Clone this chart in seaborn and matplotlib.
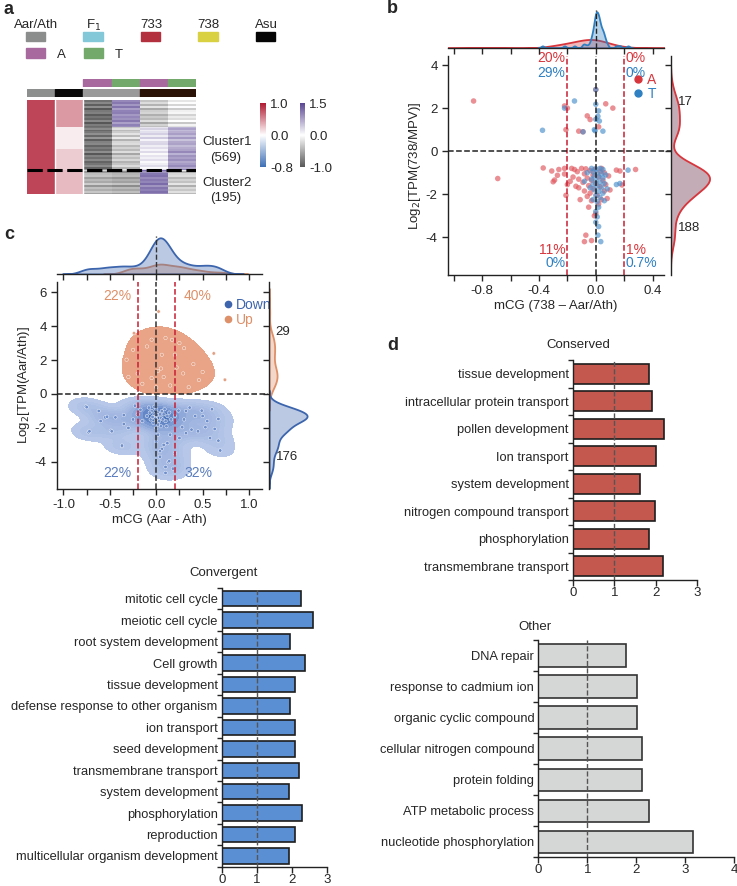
import numpy as np
import pandas as pd
import matplotlib
matplotlib.use("Agg")
import matplotlib.pyplot as plt
import seaborn as sns
from matplotlib.colors import LinearSegmentedColormap, ListedColormap, TwoSlopeNorm
from matplotlib.patches import Rectangle
from matplotlib.lines import Line2D

sns.set_style("ticks")
plt.rcParams['font.family'] = ['Liberation Sans', 'DejaVu Sans']
plt.rcParams['axes.unicode_minus'] = False
plt.rcParams['axes.linewidth'] = 1.0
plt.rcParams['axes.edgecolor'] = '#222222'
for k in ['xtick.major.width', 'ytick.major.width', 'xtick.minor.width', 'ytick.minor.width']:
    plt.rcParams[k] = 1.0

# ---------------- panel a: heatmap blocks ----------------
block_rows = [222, 178, 169, 195]          # cluster1 = first three blocks (569), cluster2 = 195
aar_ath = [0.82, 0.82, 0.82, 0.82]
asu = [0.45, 0.08, 0.22, 0.30]
f1_a = [-0.85, -0.80, -0.82, -0.45]
f1_t = [0.95, -0.30, -0.35, -0.50]
h738_a = [-0.35, 0.25, 0.15, 1.05]
h738_t = [-0.15, 0.65, 0.80, -0.30]
stripe = [0.0, 0.14, -0.10, 0.18, -0.16, 0.06, 0.10, -0.12, 0.03, -0.06, 0.15, -0.18, 0.08, -0.03, 0.12, -0.10]

# ---------------- panel b: mCG vs expression (738) ----------------
a_x = [-0.86, -0.22, -0.21, -0.12, -0.09, -0.06, -0.04, 0.00, 0.02, 0.07, 0.12, -0.20,
       -0.37, -0.31, -0.27, -0.30, -0.26, -0.22, -0.22, -0.20, -0.21, -0.17, -0.15, -0.14,
       -0.13, -0.12, -0.11, -0.10, -0.09, -0.08, -0.08, -0.07, -0.06, -0.06, -0.05, -0.04,
       -0.04, -0.03, -0.03, -0.02, -0.02, -0.01, 0.00, 0.01, 0.02, 0.03, 0.03, 0.04,
       0.05, 0.06, 0.06, 0.07, 0.08, 0.09, 0.145, 0.17, 0.185, 0.28, -0.69, -0.07,
       -0.08, -0.03, -0.01, 0.00, -0.12, -0.16, -0.18, 0.04, 0.10, -0.05, 0.02, -0.29]
a_y = [2.33, 2.10, 1.00, 0.93, 0.90, 1.64, 1.47, 2.86, 1.13, 2.20, 2.00, 2.00,
       -0.78, -0.92, -1.12, -1.42, -0.85, -0.80, -1.06, -1.55, -2.05, -0.80, -0.85, -1.63,
       -0.95, -1.30, -2.25, -0.80, -1.45, -1.05, -1.85, -0.82, -1.25, -2.10, -1.60, -0.90,
       -1.95, -1.35, -2.30, -1.10, -1.75, -0.85, -1.50, -2.05, -1.20, -0.95, -1.65, -2.25,
       -1.35, -1.00, -1.85, -1.55, -2.20, -1.15, -0.88, -0.92, -1.57, -0.85, -1.27, -3.90,
       -4.20, -4.15, -3.00, -2.90, -1.70, -1.20, -1.40, -0.80, -1.80, -2.60, -2.45, -1.34]
t_x = [-0.375, -0.15, -0.22, 0.00, 0.00, 0.02, 0.015, 0.00, 0.025, -0.005, -0.01, 0.05, -0.09,
       -0.03, 0.00, 0.03, 0.05, -0.02, 0.01, 0.04, -0.01, 0.02, 0.05, -0.03, 0.00, 0.03,
       0.06, -0.02, 0.01, 0.04, 0.08, -0.01, 0.02, 0.05, 0.00, 0.03, -0.02, 0.01, 0.02,
       0.00, 0.01, 0.00, 0.02, 0.015, 0.035, 0.145, 0.17, 0.227, -0.06, -0.08, 0.07,
       -0.04, 0.06]
t_y = [0.97, 2.33, 2.00, 2.86, 2.18, 1.87, 1.62, 1.48, 1.40, 0.95, 1.00, 0.93, 0.90,
       -0.80, -0.82, -0.80, -0.85, -0.95, -1.00, -1.05, -1.15, -1.20, -1.25, -1.30, -1.38, -1.45,
       -1.50, -1.55, -1.62, -1.70, -1.75, -1.80, -1.88, -1.95, -2.05, -2.15, -2.25, -2.35, -2.60,
       -2.80, -3.05, -3.30, -3.50, -3.90, -4.20, -1.55, -1.50, -0.88, -1.00, -1.40, -1.10,
       -1.70, -2.30]
b_pct_top = ['20%', '29%', '0%', '0%']
b_pct_bot = ['11%', '0%', '1%', '0.7%']
b_counts = ['17', '188']

# ---------------- panel c: mCG vs expression (Aar vs Ath) ----------------
up_x = [0.025, -0.24, -0.32, 0.06, 0.17, 0.62, 0.74, 0.40, 0.29, 0.46, -0.05, 0.02, 0.20,
        0.22, 0.05, -0.10, 0.10, -0.20, 0.30, 0.00, -0.15, 0.15, 0.35, -0.25, 0.50, 0.08,
        -0.05, 0.25, -0.30]
up_y = [4.86, 3.58, 2.02, 2.31, 3.19, 2.39, 0.84, 1.76, 1.21, 0.82, 0.94, 1.36, 2.31,
        1.56, 1.50, 2.80, 3.30, 1.20, 2.70, 0.40, 0.60, 0.50, 0.40, 2.60, 1.30, 1.00,
        3.20, 3.00, 1.00]
down_x = [-0.76, -0.75, -0.73, -0.72, -0.55, -0.53, -0.49, -0.48, -0.44, -0.37, -0.37, -0.35,
          -0.35, -0.23, -0.17, -0.62, -0.60, -0.30, -0.25, -0.20, -0.15,
          -0.08, -0.05, -0.02, 0.00, 0.02, 0.05, 0.08, 0.10, -0.06, -0.03, 0.00, 0.03, 0.06,
          0.12, -0.10, 0.00, 0.01, -0.01, 0.04, 0.07, 0.02, -0.04, 0.09, 0.14, 0.00, 0.05,
          -0.07, 0.11, 0.16, -0.02,
          0.24, 0.32, 0.49, 0.60, 0.67, 0.55, 0.42, 0.28, 0.38, 0.45, 0.63, 0.67, 0.69, 0.32,
          0.53, 0.20, 0.30, 0.36, 0.50, 0.58, 0.25, 0.15,
          0.06, 0.13, 0.10, 0.04, 0.04, 0.14, 0.10, 0.18, 0.00, 0.08, 0.20, 0.02, 0.12]
down_y = [-0.73, -0.78, -2.26, -2.20, -1.38, -1.34, -2.16, -2.20, -1.38, -3.08, -3.04, -1.24,
          -1.77, -0.69, -0.93, -1.00, -1.60, -2.00, -1.50, -1.20, -1.60,
          -0.80, -1.00, -1.20, -1.30, -1.10, -1.40, -1.20, -1.60, -1.50, -1.70, -0.90, -1.60, -1.00,
          -1.30, -1.30, -1.50, -1.25, -1.45, -1.20, -1.50, -1.80, -1.35, -0.90, -1.10, -2.00, -1.90,
          -1.10, -1.90, -1.50, -0.75,
          -0.98, -1.00, -0.98, -0.90, -1.47, -1.60, -1.30, -1.96, -2.10, -2.20, -2.06, -2.75, -3.33, -2.31,
          -1.96, -1.30, -1.50, -0.80, -1.30, -2.60, -2.60, -2.40,
          -3.24, -4.02, -4.30, -3.70, -3.37, -3.96, -4.65, -4.40, -2.80, -3.00, -3.50, -2.40, -2.90]
c_pct_top = ['22%', '40%']
c_pct_bot = ['22%', '32%']
c_counts = ['29', '176']

# ---------------- panel d: GO enrichment ----------------
conserved_terms = ['tissue development', 'intracellular protein transport', 'pollen development',
                   'Ion transport', 'system development', 'nitrogen compound transport',
                   'phosphorylation', 'transmembrane transport']
conserved_vals = [1.85, 1.90, 2.19, 2.00, 1.62, 1.99, 1.83, 2.17]
convergent_terms = ['mitotic cell cycle', 'meiotic cell cycle', 'root system development', 'Cell growth',
                    'tissue development', 'defense response to other organism', 'ion transport',
                    'seed development', 'transmembrane transport', 'system development',
                    'phosphorylation', 'reproduction', 'multicellular organism development']
convergent_vals = [2.27, 2.62, 1.94, 2.39, 2.09, 1.96, 2.08, 2.09, 2.22, 1.91, 2.28, 2.08, 1.93]
other_terms = ['DNA repair', 'response to cadmium ion', 'organic cyclic compound',
               'cellular nitrogen compound', 'protein folding', 'ATP metabolic process',
               'nucleotide phosphorylation']
other_vals = [1.79, 2.01, 2.01, 2.11, 2.11, 2.26, 3.16]

# ---------------- layout helpers ----------------
W, H = 737, 886
fig = plt.figure(figsize=(W / 100, H / 100), dpi=100)


def box(x0, y0, x1, y1):
    return [x0 / W, 1 - y1 / H, (x1 - x0) / W, (y1 - y0) / H]


RED_L = '#c81e32'
FS = 9.5

# ================= panel a =================
blk = np.repeat(np.arange(len(block_rows)), block_rows)
n_rows = len(blk)
tex = np.tile(np.repeat(stripe, 16), n_rows // (16 * len(stripe)) + 1)[:n_rows]
hm = pd.DataFrame({
    'Aar/Ath': np.array(aar_ath)[blk],
    'Asu': np.array(asu)[blk],
    'F1 A': np.array(f1_a)[blk] + tex,
    'F1 T': np.array(f1_t)[blk] + tex,
    '738 A': np.array(h738_a)[blk] + tex,
    '738 T': np.array(h738_t)[blk] + tex,
})
rb_cmap = LinearSegmentedColormap.from_list('rb', ['#3d6fb5', '#ffffff', '#b01c33'])
pg_cmap = LinearSegmentedColormap.from_list('pg', ['#575757', '#ffffff', '#5b4793'])

hax = fig.add_axes(box(27, 100, 196, 194))
cax1 = fig.add_axes(box(260, 103, 266, 167))
cax2 = fig.add_axes(box(300, 103, 305, 167))
mask_rb = np.zeros(hm.shape, bool)
mask_rb[:, 2:] = True
sns.heatmap(hm, mask=mask_rb, cmap=rb_cmap, norm=TwoSlopeNorm(vcenter=0, vmin=-0.8, vmax=1.0),
            cbar_ax=cax1, cbar_kws={'ticks': [-0.8, 0, 1.0], 'format': '%.1f'},
            xticklabels=False, yticklabels=False, ax=hax)
sns.heatmap(hm, mask=~mask_rb, cmap=pg_cmap, norm=TwoSlopeNorm(vcenter=0, vmin=-1.0, vmax=1.5),
            cbar_ax=cax2, cbar_kws={'ticks': [-1.0, 0, 1.5], 'format': '%.1f'},
            xticklabels=False, yticklabels=False, ax=hax)
for coll in hax.collections:
    if coll.colorbar is not None:
        coll.colorbar.outline.set_visible(False)
for cax in (cax1, cax2):
    cax.tick_params(length=0, labelsize=FS, pad=3)
hax.axvline(1, color='white', lw=1)
hax.axvline(2, color='white', lw=1)
hax.axhline(sum(block_rows[:3]), color='black', lw=2.2, ls=(0, (5, 1.5)))

species_strip = ['#8d8f8f', '#0a0a0a', '#9a9a9a', '#9a9a9a', '#2a1206', '#2a1206']
allele_strip = [None, None, '#a8699f', '#74a96c', '#a8699f', '#74a96c']
sax1 = fig.add_axes(box(27, 89, 196, 97))
sax2 = fig.add_axes(box(27, 79, 196, 87))
for i, (c1, c2) in enumerate(zip(species_strip, allele_strip)):
    sax1.add_patch(Rectangle((i, 0), 1, 1, color=c1))
    if c2:
        sax2.add_patch(Rectangle((i, 0), 1, 1, color=c2))
for s in (sax1, sax2):
    s.set_xlim(0, 6)
    s.set_ylim(0, 1)
    s.axis('off')

# ================= panel b =================
RED_B, BLUE_B = '#d8363d', '#2f80c2'
dfb = pd.DataFrame({'x': a_x + t_x, 'y': a_y + t_y, 'g': ['A'] * len(a_x) + ['T'] * len(t_x)})
bmain = fig.add_axes(box(448, 56, 664, 275))
btop = fig.add_axes(box(448, 10, 664, 48))
bright = fig.add_axes(box(671, 56, 712, 275))

sns.scatterplot(data=dfb, x='x', y='y', hue='g', palette={'A': '#e0555c', 'T': '#4a8fcc'},
                s=16, alpha=0.65, edgecolor='none', legend=False, ax=bmain)
bmain.axvline(-0.2, color=RED_L, ls='--', lw=1.1)
bmain.axvline(0.2, color=RED_L, ls='--', lw=1.1)
bmain.axvline(0, color='#222222', ls='--', lw=1.1)
bmain.axhline(0, color='#222222', ls='--', lw=1.1, xmax=1.04, clip_on=False)
bmain.set_xlim(-1.04, 0.48)
bmain.set_ylim(-5.75, 4.42)
bmain.set_xticks([-0.8, -0.4, 0.0, 0.4])
bmain.set_xticklabels(['-0.8', '-0.4', '0.0', '0.4'])
bmain.set_xticks([-1.0, -0.6, -0.2, 0.2], minor=True)
bmain.set_yticks([-4, -2, 0, 2, 4])
bmain.tick_params(which='both', length=4, labelsize=FS)
sns.despine(ax=bmain)
bmain.set_xlabel('mCG (738 – Aar/Ath)', fontsize=FS, labelpad=2)
bmain.set_ylabel(r'Log$_2$[TPM(738/MPV)]', fontsize=FS, labelpad=2)
for txt, col, xx, yy, ha in [(b_pct_top[0], RED_B, -0.215, 4.35, 'right'),
                             (b_pct_top[1], BLUE_B, -0.215, 3.62, 'right'),
                             (b_pct_top[2], RED_B, 0.212, 4.35, 'left'),
                             (b_pct_top[3], BLUE_B, 0.212, 3.62, 'left'),
                             (b_pct_bot[0], RED_B, -0.215, -4.58, 'right'),
                             (b_pct_bot[1], BLUE_B, -0.215, -5.2, 'right'),
                             (b_pct_bot[2], RED_B, 0.212, -4.58, 'left'),
                             (b_pct_bot[3], BLUE_B, 0.212, -5.2, 'left')]:
    bmain.text(xx, yy, txt, color=col, ha=ha, va='center', fontsize=10, clip_on=False)
bleg = [Line2D([], [], marker='o', ls='', color=RED_B, ms=5, label='A'),
        Line2D([], [], marker='o', ls='', color=BLUE_B, ms=5, label='T')]
bmain.legend(handles=bleg, loc='upper left', bbox_to_anchor=(0.82, 0.95), frameon=False,
             labelcolor='linecolor', fontsize=10, handletextpad=0.2, labelspacing=0.05,
             borderaxespad=0, handlelength=1)

sns.kdeplot(x=a_x, ax=btop, fill=True, color=RED_B, alpha=0.35, lw=1.3, bw_adjust=1.1)
sns.kdeplot(x=t_x, ax=btop, fill=True, color=BLUE_B, alpha=0.35, lw=1.3, bw_adjust=0.3)
btop.axvline(0, color='#222222', ls='--', lw=1)
btop.set_xlim(bmain.get_xlim())
btop.set_ylim(0, None)
btop.set_xticks(np.arange(-1.0, 0.41, 0.2))
btop.set_xticklabels([])
btop.set_yticks([])
btop.set_ylabel('')
btop.tick_params(length=4)
sns.despine(ax=btop, left=True)

sns.kdeplot(y=dfb['y'], ax=bright, fill=True, color='#9e7586', alpha=0.6, lw=0, bw_adjust=0.8)
sns.kdeplot(y=dfb['y'], ax=bright, color=RED_B, lw=1.3, bw_adjust=0.8)
bright.set_ylim(bmain.get_ylim())
bright.set_xlim(0, None)
bright.set_yticks([-4, -2, 0, 2, 4])
bright.set_yticklabels([])
bright.set_xticks([])
bright.set_xlabel('')
bright.set_ylabel('')
bright.tick_params(length=4)
sns.despine(ax=bright, bottom=True)

# ================= panel c =================
BLUE_C, ORANGE_C = '#3c65ad', '#de9068'
dfc = pd.DataFrame({'x': down_x + up_x, 'y': down_y + up_y,
                    'g': ['Down'] * len(down_x) + ['Up'] * len(up_x)})
cmain = fig.add_axes(box(57, 282, 262, 489))
ctop = fig.add_axes(box(57, 236, 262, 274))
cright = fig.add_axes(box(269, 282, 309, 489))

XL, YL = (-1.07, 1.14), (-5.6, 6.6)
sns.kdeplot(x=up_x, y=up_y, fill=True, levels=[0.3, 1], cmap=ListedColormap(['#e9a488']),
            clip=(XL, (0, YL[1])), bw_adjust=1.3, ax=cmain)
sns.kdeplot(x=down_x, y=down_y, fill=True, levels=12, thresh=0.03,
            cmap=LinearSegmentedColormap.from_list('dn', ['#b9c9ea', '#7e9bd4', '#3a67b1']),
            clip=(XL, (YL[0], 0)), bw_adjust=0.72, ax=cmain)
sns.scatterplot(data=dfc, x='x', y='y', hue='g', palette={'Down': '#6f8fcc', 'Up': '#e2a083'},
                s=6, edgecolor='white', linewidth=0.3, legend=False, ax=cmain)
cmain.axvline(-0.2, color=RED_L, ls='--', lw=1.1)
cmain.axvline(0.2, color=RED_L, ls='--', lw=1.1)
cmain.axvline(0, color='#333333', ls='--', lw=1.1)
cmain.axhline(0, color='#222222', ls='--', lw=1.1, xmax=1.03, clip_on=False)
cmain.set_xlim(XL)
cmain.set_ylim(YL)
cmain.set_xticks([-1.0, -0.5, 0.0, 0.5, 1.0])
cmain.set_xticklabels(['-1.0', '-0.5', '0.0', '0.5', '1.0'])
cmain.set_xticks([-0.75, -0.25, 0.25, 0.75], minor=True)
cmain.set_yticks([-4, -2, 0, 2, 4, 6])
cmain.tick_params(which='both', length=4, labelsize=FS)
sns.despine(ax=cmain)
cmain.set_xlabel('mCG (Aar - Ath)', fontsize=FS, labelpad=2)
cmain.set_ylabel(r'Log$_2$[TPM(Aar/Ath)]', fontsize=FS, labelpad=2)
for txt, col, xx, yy in [(c_pct_top[0], ORANGE_C, -0.42, 5.78), (c_pct_top[1], ORANGE_C, 0.44, 5.78),
                         (c_pct_bot[0], '#5a7dbd', -0.42, -4.65), (c_pct_bot[1], '#5a7dbd', 0.45, -4.65)]:
    cmain.text(xx, yy, txt, color=col, ha='center', va='center', fontsize=10)
cleg = [Line2D([], [], marker='o', ls='', color=BLUE_C, ms=4.5, label='Down'),
        Line2D([], [], marker='o', ls='', color=ORANGE_C, ms=4.5, label='Up')]
cmain.legend(handles=cleg, loc='upper left', bbox_to_anchor=(0.78, 0.95), frameon=False,
             labelcolor='linecolor', fontsize=10, handletextpad=0.15, labelspacing=0.05,
             borderaxespad=0, handlelength=0.8)

sns.kdeplot(data=dfc, x='x', hue='g', palette={'Down': BLUE_C, 'Up': ORANGE_C}, fill=True,
            common_norm=True, alpha=0.35, lw=1.3, bw_adjust=0.6, legend=False, ax=ctop)
ctop.axvline(0, color='#333333', ls='--', lw=1)
ctop.set_xlim(XL)
ctop.set_ylim(0, None)
ctop.set_xticks(np.arange(-1.0, 1.01, 0.25))
ctop.set_xticklabels([])
ctop.set_yticks([])
ctop.set_xlabel('')
ctop.set_ylabel('')
ctop.tick_params(length=4)
sns.despine(ax=ctop, left=True)

sns.kdeplot(data=dfc, y='y', hue='g', palette={'Down': BLUE_C, 'Up': ORANGE_C}, fill=True,
            common_norm=True, alpha=0.35, lw=1.3, bw_adjust=0.8, legend=False, ax=cright)
cright.set_ylim(YL)
cright.set_xlim(0, None)
cright.set_yticks([-4, -2, 0, 2, 4, 6])
cright.set_yticklabels([])
cright.set_xticks([])
cright.set_xlabel('')
cright.set_ylabel('')
cright.tick_params(length=4)
sns.despine(ax=cright, bottom=True)


# ================= bar panels =================
def go_bars(rect, terms, vals, color, edge, xmax, title, tx, ty):
    ax = fig.add_axes(box(*rect))
    sns.barplot(x=vals, y=terms, orient='h', color=color, saturation=1, edgecolor=edge,
                linewidth=1.2, width=0.72, ax=ax)
    ax.axvline(1, color='#555555', ls='--', lw=1)
    ax.set_xlim(0, xmax)
    ax.set_xticks(range(xmax + 1))
    ax.set_yticks(np.arange(-0.5, len(terms), 1), minor=True)
    ax.tick_params(axis='y', which='major', length=0, labelsize=9.3, pad=3)
    ax.tick_params(axis='y', which='minor', length=3.5)
    ax.tick_params(axis='x', length=4, labelsize=FS, pad=1)
    ax.set_xlabel('')
    ax.set_ylabel('')
    sns.despine(ax=ax)
    ax.text(tx, ty, title, transform=ax.transAxes, ha='center', va='center', fontsize=9.5)
    return ax


go_bars((573, 360, 697, 580), conserved_terms, conserved_vals, '#c4584f', '#1e1e1e', 3, 'Conserved', 0.04, 1.068)
go_bars((221.7, 588, 326.7, 866.7), convergent_terms, convergent_vals, '#5b8fd3', '#1e1e1e', 3, 'Convergent', 0.02, 1.054)
go_bars((538.3, 640, 734, 857.3), other_terms, other_vals, '#d5d7d6', '#333333', 4, 'Other', -0.017, 1.06)

# ================= overlay: labels, legend of panel a =================
ov = fig.add_axes([0, 0, 1, 1])
ov.set_xlim(0, W)
ov.set_ylim(H, 0)
ov.axis('off')
for lab, (lx, ly) in zip('abcd', [(4, 9), (387, 8), (4, 234), (387, 345)]):
    ov.text(lx, ly, lab, fontsize=13, fontweight='bold', ha='left', va='center')

legend_names = ['Aar/Ath', r'F$_1$', '733', '738', 'Asu']
legend_cols = ['#8b8d8d', '#82c8d8', '#b3313f', '#d9d042', '#050505']
for i, (nm, col) in enumerate(zip(legend_names, legend_cols)):
    x0 = 26 + i * 57.5
    ov.add_patch(Rectangle((x0, 32), 19.5, 9, color=col))
    ov.text(x0 + 10, 25, nm, ha='center', va='center', fontsize=9.5)
for x0, col, nm in [(26, '#a8699f', 'A'), (84, '#74a96c', 'T')]:
    ov.add_patch(Rectangle((x0, 48), 19.5, 9.5, color=col))
    ov.text(x0 + 31, 55, nm, ha='left', va='center', fontsize=9.5)

ov.text(202, 142, 'Cluster1', ha='left', va='center', fontsize=9.5)
ov.text(226, 158, '(569)', ha='center', va='center', fontsize=9.5)
ov.text(202, 183, 'Cluster2', ha='left', va='center', fontsize=9.5)
ov.text(226, 198, '(195)', ha='center', va='center', fontsize=9.5)

ov.text(678, 102, b_counts[0], ha='left', va='center', fontsize=9.5)
ov.text(678, 228, b_counts[1], ha='left', va='center', fontsize=9.5)
ov.text(275, 332, c_counts[0], ha='left', va='center', fontsize=9.5)
ov.text(276, 457, c_counts[1], ha='left', va='center', fontsize=9.5)

fig.savefig('out.png', dpi=100)
